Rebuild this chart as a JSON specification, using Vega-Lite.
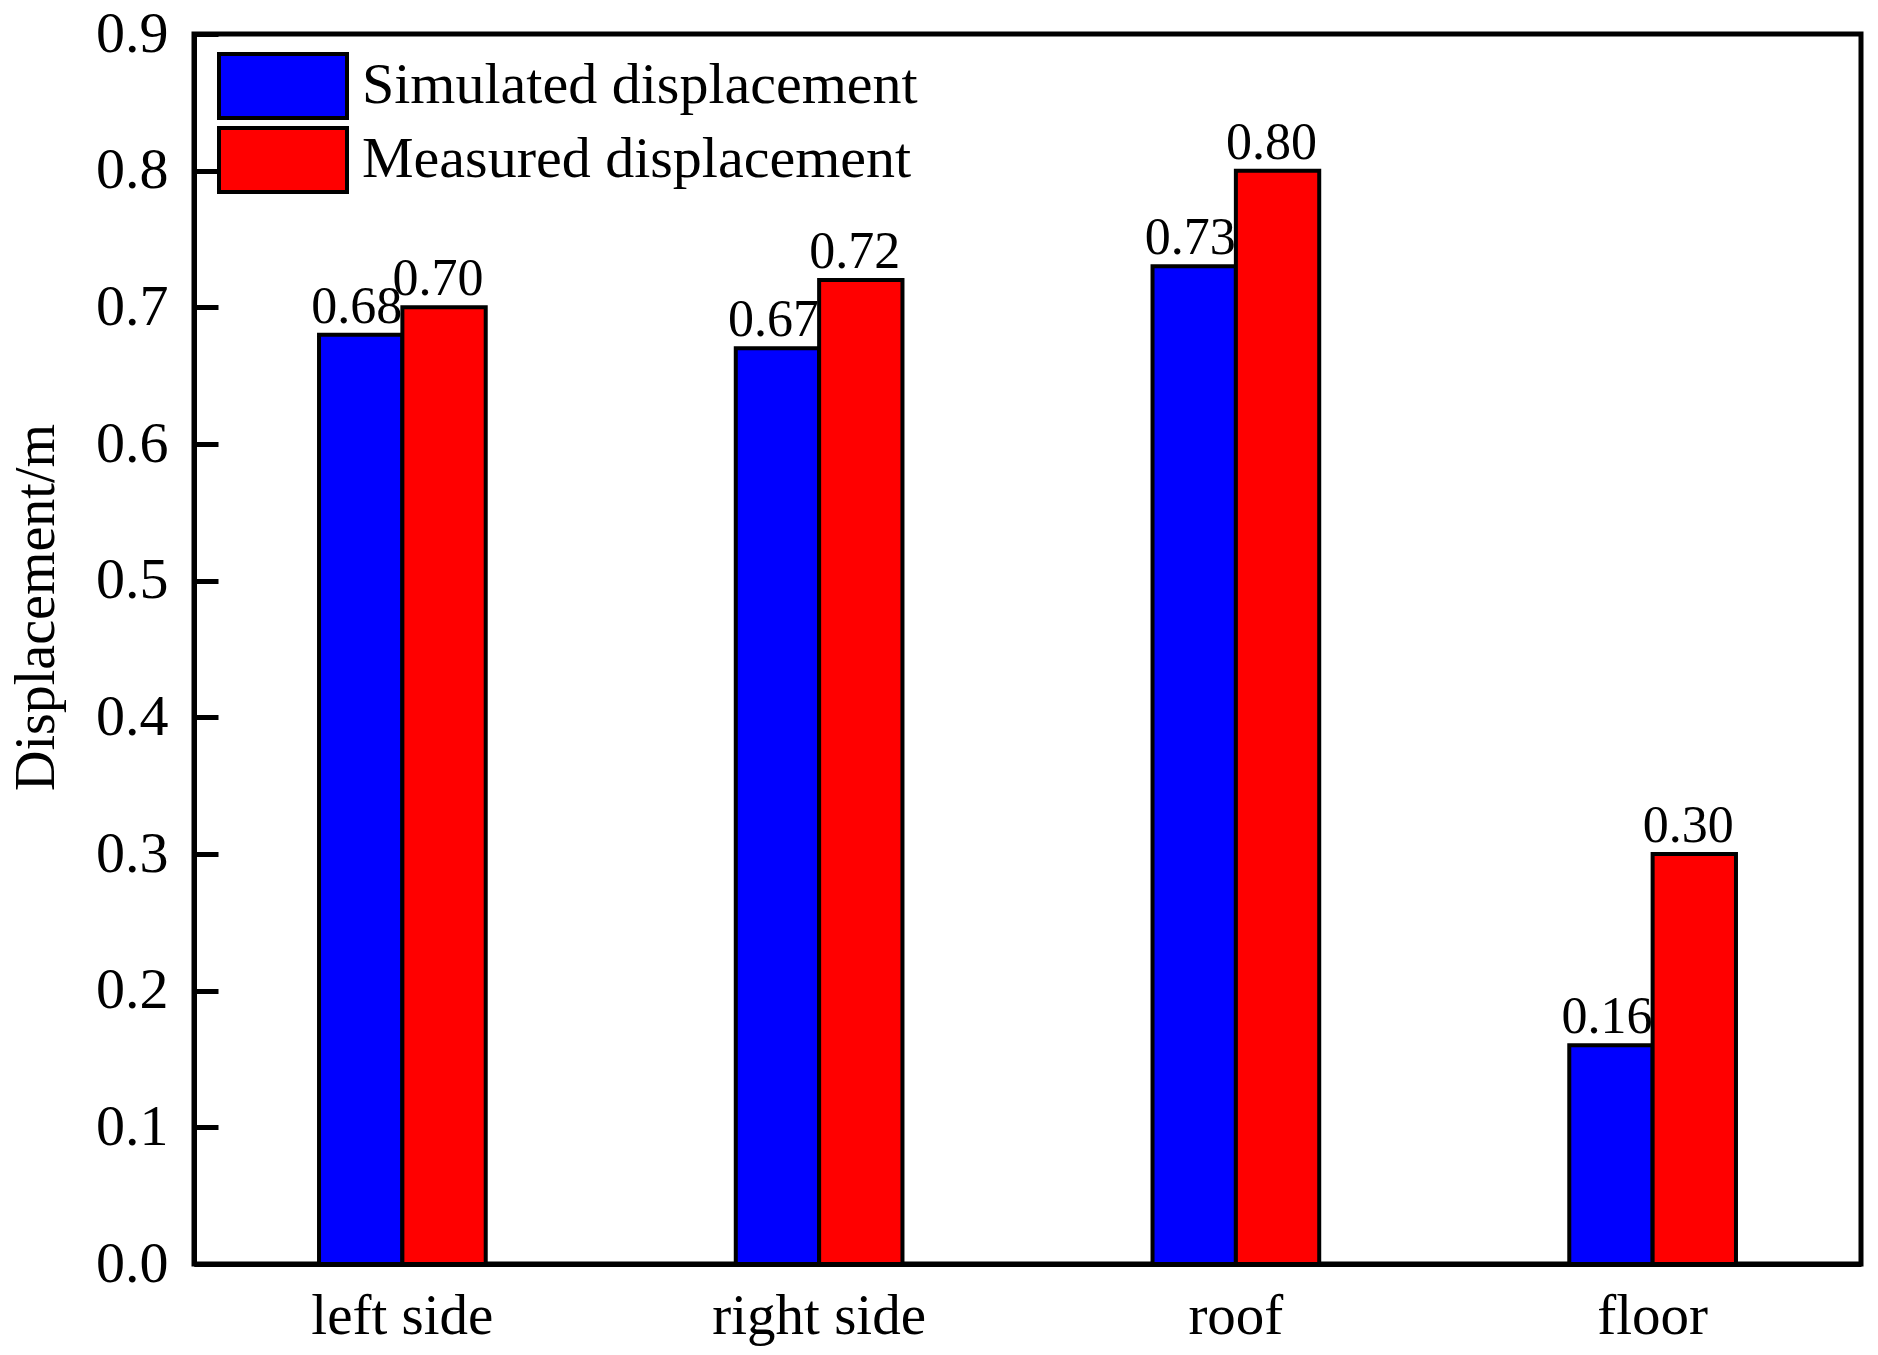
{
  "$schema": "https://vega.github.io/schema/vega-lite/v6.json",
  "autosize": {"type": "none"},
  "padding": {"left": 194, "top": 34, "right": 17, "bottom": 91},
  "width": 1667,
  "height": 1230,
  "background": "white",
  "config": {
    "font": "Liberation Serif",
    "view": {"stroke": "black", "strokeWidth": 5},
    "axis": {"domainColor": "black", "domainWidth": 5, "tickColor": "black", "tickWidth": 5, "labelColor": "black", "titleColor": "black", "grid": false, "labelFont": "Liberation Serif", "titleFont": "Liberation Serif", "titleFontWeight": "normal"},
    "legend": {"labelFont": "Liberation Serif"}
  },
  "data": {
    "values": [
      {"position": "left side", "series": "Simulated displacement", "value": 0.68},
      {"position": "left side", "series": "Measured displacement", "value": 0.70},
      {"position": "right side", "series": "Simulated displacement", "value": 0.67},
      {"position": "right side", "series": "Measured displacement", "value": 0.72},
      {"position": "roof", "series": "Simulated displacement", "value": 0.73},
      {"position": "roof", "series": "Measured displacement", "value": 0.80},
      {"position": "floor", "series": "Simulated displacement", "value": 0.16},
      {"position": "floor", "series": "Measured displacement", "value": 0.30}
    ]
  },
  "encoding": {
    "x": {
      "field": "position", "type": "nominal",
      "sort": ["left side", "right side", "roof", "floor"],
      "scale": {"paddingInner": 0.6, "paddingOuter": 0.3},
      "axis": {"title": null, "labelAngle": 0, "ticks": false, "labelFontSize": 57, "labelPadding": 24, "labelBaseline": "top", "labelLimit": 1000}
    },
    "xOffset": {
      "field": "series", "type": "nominal",
      "scale": {"domain": ["Simulated displacement", "Measured displacement"], "paddingInner": 0, "paddingOuter": 0}
    },
    "y": {
      "field": "value", "type": "quantitative",
      "scale": {"domain": [0, 0.9], "nice": false},
      "axis": {"title": "Displacement/m", "titleFontSize": 56, "titlePadding": 30, "titleY": 573, "values": [0, 0.1, 0.2, 0.3, 0.4, 0.5, 0.6, 0.7, 0.8, 0.9], "format": ".1f", "tickSize": -24, "labelFontSize": 58, "labelPadding": 50}
    }
  },
  "layer": [
    {
      "transform": [{"filter": "datum.series === 'Simulated displacement'"}],
      "mark": {"type": "bar", "stroke": "black", "strokeWidth": 4},
      "encoding": {
        "color": {
          "field": "series", "type": "nominal",
          "scale": {"domain": ["Simulated displacement", "Measured displacement"], "range": ["#0000ff", "#ff0000"]},
          "legend": {
            "title": null, "orient": "none", "legendX": 55, "legendY": 18, "padding": 0,
            "symbolType": "M-2,-1H2V1H-2Z", "symbolSize": 4096, "symbolStrokeColor": "black", "symbolStrokeWidth": 4, "symbolOpacity": 1,
            "labelFontSize": 58, "labelOffset": 45, "labelColor": "black", "rowPadding": -8, "labelLimit": 1000
          }
        }
      }
    },
    {
      "transform": [{"filter": "datum.series === 'Simulated displacement'"}],
      "mark": {"type": "text", "baseline": "alphabetic", "dy": -12, "dx": -4, "fontSize": 52, "font": "Liberation Serif", "color": "black"},
      "encoding": {"text": {"field": "value", "type": "quantitative", "format": ".2f"}}
    },
    {
      "transform": [{"filter": "datum.series === 'Measured displacement'"}],
      "mark": {"type": "bar", "stroke": "black", "strokeWidth": 4},
      "encoding": {
        "color": {"field": "series", "type": "nominal"}
      }
    },
    {
      "transform": [{"filter": "datum.series === 'Measured displacement'"}],
      "mark": {"type": "text", "baseline": "alphabetic", "dy": -12, "dx": -6, "fontSize": 52, "font": "Liberation Serif", "color": "black"},
      "encoding": {"text": {"field": "value", "type": "quantitative", "format": ".2f"}}
    }
  ]
}
